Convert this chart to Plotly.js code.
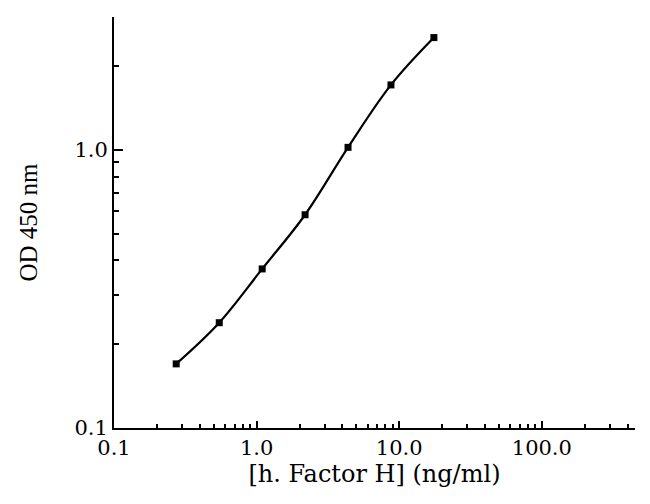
<!DOCTYPE html>
<html>
<head>
<meta charset="utf-8">
<script src="https://cdn.plot.ly/plotly-3.0.1.min.js"></script>
<style>html,body{margin:0;padding:0;background:#fff;}#chart{width:650px;height:504px;}</style>
</head>
<body>
<div id="chart"></div>
<script>
// Concentration of h. Factor H (ng/ml), serial 2-fold dilutions
const concentration = [0.273, 0.547, 1.094, 2.1875, 4.375, 8.75, 17.5];
// Optical density at 450 nm
const od450 = [0.170, 0.239, 0.373, 0.584, 1.02, 1.71, 2.53];

const xTickVals = [0.1, 1, 10, 100];
const xTickText = ['0.1', '1.0', '10.0', '100.0'];
const xMinorVals = [0.2,0.3,0.4,0.5,0.6,0.7,0.8,0.9, 2,3,4,5,6,7,8,9, 20,30,40,50,60,70,80,90, 200,300,400];
const yTickVals = [0.1, 1];
const yTickText = ['0.1', '1.0'];
const yMinorVals = [0.2,0.3,0.4,0.5,0.6,0.7,0.8,0.9, 2,3];

const serif = 'DejaVu Serif, Liberation Serif, serif';

const trace = {
  x: concentration,
  y: od450,
  type: 'scatter',
  mode: 'lines+markers',
  line: {color: '#000', width: 2.2, shape: 'spline', smoothing: 1},
  marker: {symbol: 'square', size: 7, color: '#000'},
  showlegend: false
};

const layout = {
  width: 650, height: 504,
  margin: {l: 114, r: 15, t: 17, b: 76},
  paper_bgcolor: '#fff', plot_bgcolor: '#fff',
  xaxis: {
    type: 'log',
    range: [-1, Math.log10(450)],
    showgrid: false, zeroline: false,
    showline: true, linecolor: '#000', linewidth: 2,
    ticks: 'inside', ticklen: 7, tickwidth: 2, tickcolor: '#000',
    tickvals: xTickVals, ticktext: xTickText,
    tickfont: {family: serif, size: 21, color: '#000'},
    minor: {ticks: 'inside', ticklen: 4, tickwidth: 2, tickcolor: '#000', tickvals: xMinorVals, showgrid: false},
    title: {text: '[h. Factor H] (ng/ml)', font: {family: serif, size: 24, color: '#000'}, standoff: 6}
  },
  yaxis: {
    type: 'log',
    range: [-1, Math.log10(3.0)],
    showgrid: false, zeroline: false,
    showline: true, linecolor: '#000', linewidth: 2,
    ticks: 'inside', ticklen: 9, tickwidth: 2, tickcolor: '#000',
    tickvals: yTickVals, ticktext: yTickText,
    tickfont: {family: serif, size: 21, color: '#000'},
    minor: {ticks: 'inside', ticklen: 5, tickwidth: 2, tickcolor: '#000', tickvals: yMinorVals, showgrid: false},
    title: {text: 'OD 450 nm', font: {family: 'Liberation Serif, serif', size: 25, color: '#000'}, standoff: 30}
  }
};

Plotly.newPlot('chart', [trace], layout, {displayModeBar: false, staticPlot: true});
</script>
</body>
</html>
